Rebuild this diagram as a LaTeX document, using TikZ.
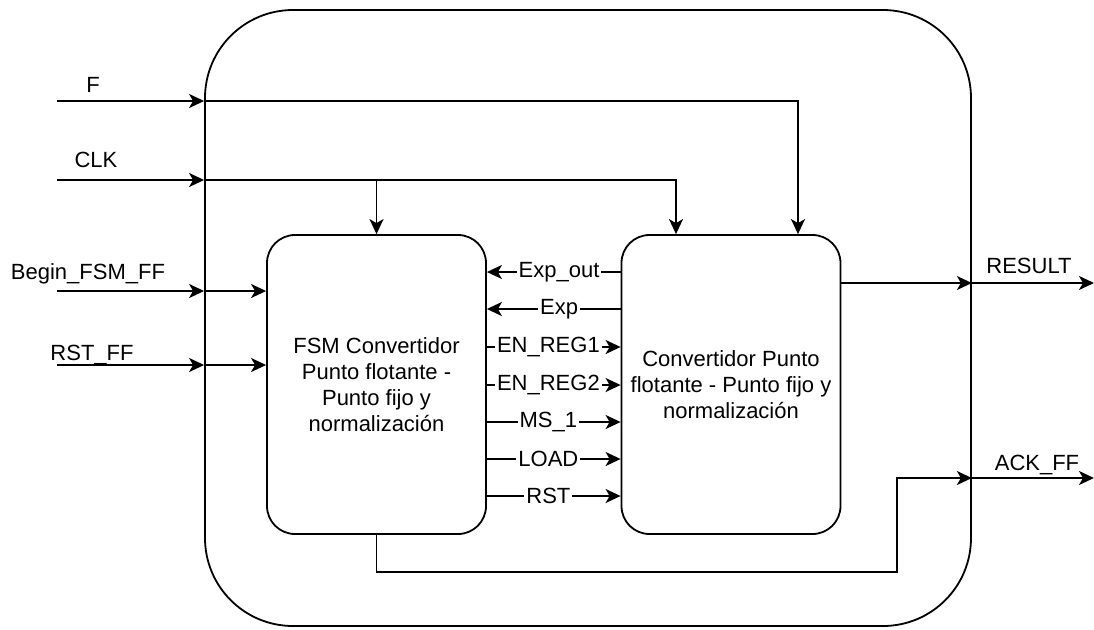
\documentclass[tikz,border=0pt]{standalone}
\usepackage{fontspec}
\setmainfont{Liberation Sans}
\usetikzlibrary{positioning,calc,arrows.meta}

\begin{document}
\begin{tikzpicture}[x=0.5pt,y=-0.5pt,font=\fontsize{11}{13}\selectfont,
  line width=0.9pt,
  sig/.style={-{Stealth[length=7.5pt,width=7pt,inset=2pt]}},
  blk/.style={draw,rounded corners=14pt,minimum width=109.5pt,minimum height=149.5pt,align=center,inner sep=0pt},
  lab/.style={fill=white,inner sep=1pt},
  pin/.style={anchor=base}]
\useasboundingbox (0,0) rectangle (1094,629);

% bloque externo
\node[draw,rounded corners=44pt,minimum width=383pt,minimum height=308pt] (sys) at (588,318) {};

% bloques internos
\node[blk] (fsm) at (376.5,384.5) {FSM Convertidor\\Punto flotante -\\Punto fijo y\\normalización};
\node[blk] (conv) at (731,384.5) {Convertidor Punto\\flotante - Punto fijo y\\normalización};

% entradas
\coordinate (fin) at (57,101);
\coordinate (clkin) at (57,180);
\coordinate (begin) at (57,291);
\coordinate (rstin) at (57,365);
\node[pin] (flab) at (93,92) {F};
\node[pin] (clklab) at (96,167) {CLK};
\node[pin] (beglab) at (88,279) {Begin\_FSM\_FF};
\node[pin] (rstlab) at (92,360) {RST\_FF};

\draw[sig] (fin) -- (fin -| sys.west);
\draw[sig] (fin -| sys.west) -| ($(conv.north)+(67,0)$);
\draw[sig] (clkin) -- (clkin -| sys.west);
\draw[sig] (clkin -| sys.west) -| ($(conv.north)+(-55,0)$);
\draw[sig] (clkin -| fsm.north) -- (fsm.north);
\foreach \p in {begin,rstin}{
  \draw[sig] (\p) -- (\p -| sys.west);
  \draw[sig] (\p -| sys.west) -- (\p -| fsm.west);
}

% senales entre bloques
\foreach \txt/\yy in {Exp\_out/272,Exp/309}
  \draw[sig] (conv.west |- 0,\yy) -- node[lab,pos=0.46]{\txt} (fsm.east |- 0,\yy);
\foreach \txt/\yy in {EN\_REG1/347,EN\_REG2/385,MS\_1/422,LOAD/459,RST/496}
  \draw[sig] (fsm.east |- 0,\yy) -- node[lab,pos=0.46]{\txt} (conv.west |- 0,\yy);

% salidas
\coordinate (resout) at (1094,283);
\coordinate (ackout) at (1094,478);
\coordinate (ackknee) at (897,572);
\draw[sig] (conv.east |- resout) -- (sys.east |- resout);
\draw[sig] (sys.east |- resout) -- (resout);
\node[pin] (reslab) at (1029,273) {RESULT};
\draw[sig] (fsm.south) |- (ackknee) |- (sys.east |- ackout);
\draw[sig] (sys.east |- ackout) -- (ackout);
\node[pin] (acklab) at (1037,470) {ACK\_FF};

\end{tikzpicture}
\end{document}
